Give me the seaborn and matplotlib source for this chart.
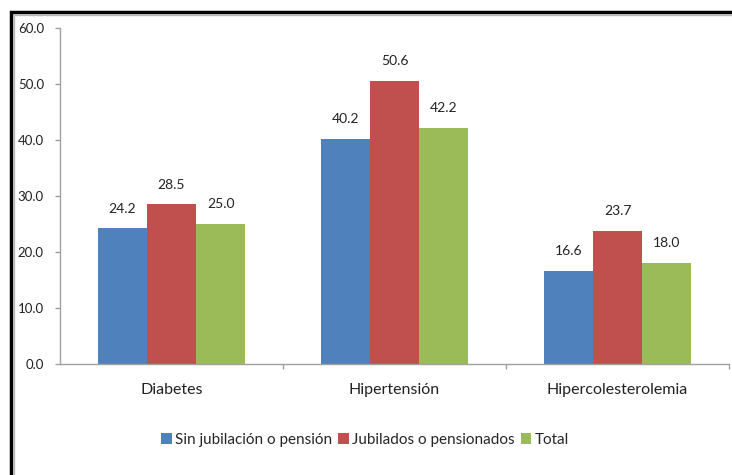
import matplotlib
matplotlib.use("Agg")
import matplotlib.pyplot as plt
import seaborn as sns
import pandas as pd
from matplotlib.patches import Rectangle

categories = ["Diabetes", "Hipertensión", "Hipercolesterolemia"]
series = ["Sin jubilación o pensión", "Jubilados o pensionados", "Total"]
sin_jub = [24.2, 40.2, 16.6]
jubilados = [28.5, 50.6, 23.7]
total = [25.0, 42.2, 18.0]
yticks = [0, 10, 20, 30, 40, 50, 60]
colors = ["#4F81BD", "#C0504D", "#9BBB59"]

rows = []
for s, vals in zip(series, [sin_jub, jubilados, total]):
    for c, v in zip(categories, vals):
        rows.append({"cat": c, "serie": s, "val": v})
df = pd.DataFrame(rows)

sns.set_theme(style="white")
plt.rcParams['font.family'] = ['Lato', 'DejaVu Sans']

fig = plt.figure(figsize=(7.32, 4.75), dpi=100)
ax = fig.add_axes([60/732, 1-364/475, 669/732, 336/475])

sns.barplot(data=df, x="cat", y="val", hue="serie", order=categories,
            hue_order=series, palette=colors, width=0.66, saturation=1,
            linewidth=0, ax=ax, legend=True)

for cont in ax.containers:
    ax.bar_label(cont, fmt="%.1f", padding=10, fontsize=10, color="#222222")

ax.set_ylim(0, 60)
ax.set_xlim(-0.5, 2.5)
ax.set_yticks(yticks)
ax.set_yticklabels([f"{t:.1f}" for t in yticks], fontsize=9.5, color="#222222")
ax.set_xticks([0, 1, 2])
ax.set_xticklabels(categories, fontsize=11.5, color="#222222")
ax.set_xticks([0.5, 1.5, 2.5], minor=True)
ax.tick_params(axis="x", which="major", length=0, pad=14)
ax.tick_params(axis="x", which="minor", length=3.6, color="#a0a0a0", width=1, direction="out", bottom=True)
ax.tick_params(axis="y", length=3.6, color="#a0a0a0", width=1, direction="out", left=True, pad=8)
ax.set_xlabel("")
ax.set_ylabel("")
for side in ["top", "right"]:
    ax.spines[side].set_visible(False)
for side in ["left", "bottom"]:
    ax.spines[side].set_color("#a0a0a0")
    ax.spines[side].set_linewidth(1)

handles, labels = ax.get_legend_handles_labels()
ax.get_legend().remove()
fig.legend(handles, labels, loc="center", bbox_to_anchor=(365/732, 1-440/475),
           ncol=3, frameon=False, fontsize=11, handlelength=0.7, handleheight=0.7,
           handletextpad=0.2, columnspacing=0.4)

fig.patches.append(Rectangle((13.5/732, -0.1), 1.2, 1 - 14.5/475 + 0.1,
                             transform=fig.transFigure, fill=False,
                             edgecolor="#b8b8b8", linewidth=1.0, zorder=9))
fig.patches.append(Rectangle((11/732, -0.1), 1.2, 1 - 12/475 + 0.1,
                             transform=fig.transFigure, fill=False,
                             edgecolor="black", linewidth=2.5, zorder=10))

fig.savefig("out.png", dpi=100)
